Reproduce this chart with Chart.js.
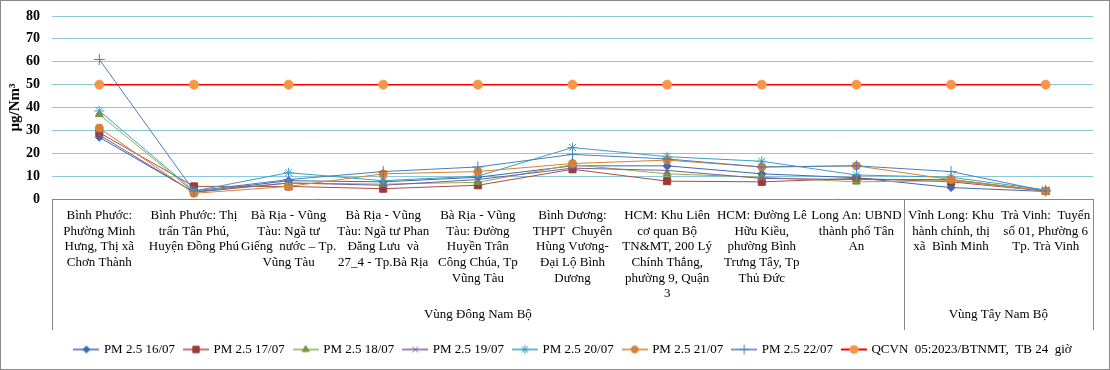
<!DOCTYPE html>
<html>
<head>
<meta charset="utf-8">
<script src="https://cdn.jsdelivr.net/npm/chart.js@4.4.1/dist/chart.umd.min.js"></script>
<style>
  html, body { margin: 0; padding: 0; background: #fff; }
</style>
</head>
<body>
<canvas id="chart" width="1110" height="370"></canvas>
<script>
// station names, wrapped like the original
const stations = [
  ["Bình Phước:", "Phường Minh", "Hưng, Thị xã", "Chơn Thành"],
  ["Bình Phước: Thị", "trấn Tân Phú,", "Huyện Đồng Phú"],
  ["Bà Rịa - Vũng", "Tàu: Ngã tư", "Giếng  nước – Tp.", "Vũng Tàu"],
  ["Bà Rịa - Vũng", "Tàu: Ngã tư Phan", "Đăng Lưu  và", "27_4 - Tp.Bà Rịa"],
  ["Bà Rịa - Vũng", "Tàu: Đường", "Huyền Trân", "Công Chúa, Tp", "Vũng Tàu"],
  ["Bình Dương:", "THPT  Chuyên", "Hùng Vương-", "Đại Lộ Bình", "Dương"],
  ["HCM: Khu Liên", "cơ quan Bộ", "TN&MT, 200 Lý", "Chính Thắng,", "phường 9, Quận", "3"],
  ["HCM: Đường Lê", "Hữu Kiều,", "phường Bình", "Trưng Tây, Tp", "Thủ Đức"],
  ["Long An: UBND", "thành phố Tân", "An"],
  ["Vĩnh Long: Khu", "hành chính, thị", "xã  Bình Minh"],
  ["Trà Vinh:  Tuyến", "số 01, Phường 6", "Tp. Trà Vinh"]
];

const regions = [
  { name: "Vùng Đông Nam Bộ", first: 0, last: 8 },
  { name: "Vùng Tây Nam Bộ", first: 9, last: 10 }
];

const pm16 = [27, 3, 8, 7.5, 9.5, 14.5, 14.5, 11, 9.3, 5, 3.3];
const pm17 = [29, 5.5, 5.5, 4.5, 6, 13, 7.8, 7.5, 9, 7.5, 3.5];
const pm18 = [37, 3, 7, 6.5, 7.3, 15, 11, 9.5, 7.5, 8, 3.5];
const pm19 = [28, 3, 7, 6, 8.5, 13.5, 12.5, 9, 8.5, 8.5, 3.5];
const pm20 = [38.5, 3.5, 11.5, 8, 10, 22.5, 18.5, 16.5, 10.5, 9.5, 4];
const pm21 = [31, 2.5, 5.5, 11, 12, 15.5, 17, 14, 14.5, 8.5, 3.5];
const pm22 = [61, 3.5, 8.5, 12, 14, 19.5, 17.5, 14, 14.5, 12, 3.5];
const qcvn = [50, 50, 50, 50, 50, 50, 50, 50, 50, 50, 50];

const yTicks = { min: 0, max: 80, step: 10 };

const serif = "'Liberation Serif', 'Times New Roman', serif";

function series(label, data, line, point, style, radius) {
  return {
    label, data,
    borderColor: line,
    borderWidth: 1,
    pointStyle: style,
    pointRadius: radius,
    pointBackgroundColor: point,
    pointBorderColor: point,
    pointBorderWidth: 1,
    tension: 0
  };
}

const datasets = [
  series("PM 2.5 16/07", pm16, "#3C69AE", "#3C69AE", "rectRot", 4),
  series("PM 2.5 17/07", pm17, "#B04A46", "#9B3A36", "rect", 5),
  series("PM 2.5 18/07", pm18, "#8DB04F", "#77933C", "triangle", 4.5),
  series("PM 2.5 19/07", pm19, "#7A5C9E", "#7A5C9E", "crossRot", 4.5),
  series("PM 2.5 20/07", pm20, "#3AA2BE", "#3AA2BE", "star", 5),
  series("PM 2.5 21/07", pm21, "#D9822B", "#D58236", "circle", 4),
  series("PM 2.5 22/07", pm22, "#4A7EC2", "#4A7EC2", "cross", 5.5),
  series("QCVN  05:2023/BTNMT,  TB 24  giờ", qcvn, "#FF0000", "#F79646", "circle", 4.5)
];
datasets[7].borderWidth = 1.5;
// later series on top, like Excel
datasets.forEach((d, i) => { d.order = 10 - i; });

// legend icon: short line with the marker in the middle
function legendIcon(d) {
  const c = document.createElement("canvas");
  c.width = 26; c.height = 12;
  const ctx = c.getContext("2d");
  ctx.strokeStyle = d.borderColor;
  ctx.lineWidth = d.borderWidth + 0.5;
  ctx.beginPath(); ctx.moveTo(0, 6); ctx.lineTo(26, 6); ctx.stroke();
  ctx.fillStyle = d.pointBackgroundColor;
  ctx.strokeStyle = d.pointBorderColor;
  ctx.lineWidth = 1;
  Chart.helpers.drawPoint(ctx, { pointStyle: d.pointStyle, radius: d.pointRadius - 0.5, rotation: 0, borderWidth: 1 }, 13, 6);
  return c;
}
const icons = datasets.map(legendIcon);

const frame = {
  id: "frame",
  afterLayout(chart) {
    // the original legend sits a little right of centre
    chart.legend.left += 24;
    chart.legend.right += 24;
  },
  beforeDraw(chart) {
    const ctx = chart.ctx;
    ctx.save();
    ctx.fillStyle = "#fff";
    ctx.fillRect(0, 0, chart.width, chart.height);
    ctx.restore();
  },
  afterDraw(chart) {
    const ctx = chart.ctx;
    const x = chart.scales.x;
    const area = chart.chartArea;
    const bottom = x.bottom - 3;
    ctx.save();
    ctx.strokeStyle = "#868686";
    ctx.lineWidth = 1;
    const half = (x.getPixelForValue(1) - x.getPixelForValue(0)) / 2;
    const edges = [Math.round(area.left) + 0.5];
    regions.forEach(r => edges.push(Math.round(x.getPixelForValue(r.last) + half) + 0.5));
    edges.forEach(px => {
      ctx.beginPath(); ctx.moveTo(px, area.bottom); ctx.lineTo(px, bottom); ctx.stroke();
    });
    ctx.fillStyle = "#000";
    ctx.font = "13px " + serif;
    ctx.textAlign = "center";
    ctx.textBaseline = "middle";
    regions.forEach(r => {
      const cx = (x.getPixelForValue(r.first) + x.getPixelForValue(r.last)) / 2;
      ctx.fillText(r.name, cx, bottom - 15);
    });
    // outer border
    ctx.strokeStyle = "#898989";
    ctx.strokeRect(0.5, 0.5, chart.width - 1, chart.height - 1);
    ctx.restore();
  }
};

new Chart(document.getElementById("chart"), {
  type: "line",
  data: { labels: stations, datasets },
  options: {
    responsive: false,
    animation: false,
    events: [],
    layout: { padding: { left: 6, right: 17, top: 16, bottom: 4 } },
    scales: {
      x: {
        offset: true,
        grid: { display: false, drawTicks: false },
        border: { display: true, color: "#868686", width: 1 },
        ticks: {
          autoSkip: false, maxRotation: 0, minRotation: 0,
          padding: 9, color: "#000",
          font: { family: serif, size: 13, lineHeight: 1.2 }
        },
        afterFit(scale) { scale.height = 134; }
      },
      y: {
        min: yTicks.min, max: yTicks.max,
        grid: {
          drawTicks: false,
          color: ctx => ctx.tick.value === 0 ? "rgba(0,0,0,0)" : "#8CC7DB",
          lineWidth: 1
        },
        border: { display: false },
        ticks: {
          stepSize: yTicks.step, padding: 12, color: "#000",
          font: { family: serif, size: 14, weight: "bold" }
        },
        title: {
          display: true, text: "µg/Nm³", color: "#000",
          font: { family: serif, size: 15, weight: "bold" },
          padding: { top: 0, bottom: 2 }
        },
        afterFit(scale) {
          scale.width = 46;
          scale.paddingTop = 0;
          scale.paddingBottom = 0;
        }
      }
    },
    plugins: {
      tooltip: { enabled: false },
      legend: {
        position: "bottom",
        labels: {
          usePointStyle: true,
          pointStyleWidth: 22,
          padding: 10,
          color: "#000",
          font: { family: serif, size: 13 },
          generateLabels(chart) {
            const items = Chart.defaults.plugins.legend.labels.generateLabels(chart);
            items.sort((a, b) => a.datasetIndex - b.datasetIndex);
            items.forEach(it => { it.pointStyle = icons[it.datasetIndex]; });
            return items;
          }
        }
      }
    }
  },
  plugins: [frame]
});
</script>
</body>
</html>
